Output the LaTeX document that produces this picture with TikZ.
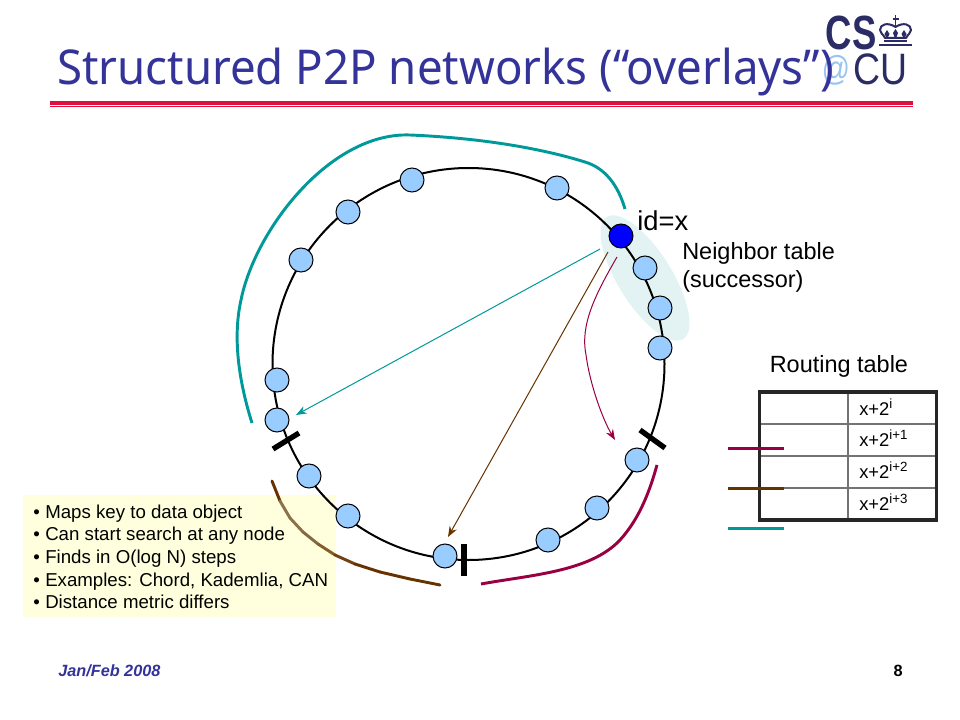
\documentclass[tikz,border=0pt]{standalone}
\usepackage{fontspec}
\setmainfont{Liberation Sans}
\newfontfamily\titlefont{Noto Sans}
\usetikzlibrary{arrows.meta,calc}
\definecolor{titleblue}{HTML}{333399}
\definecolor{rulered}{HTML}{E0103C}
\definecolor{logonavy}{HTML}{2B2B66}
\definecolor{logoblue}{HTML}{99C4EE}
\definecolor{peerblue}{HTML}{99CCFF}
\definecolor{tealc}{HTML}{009999}
\definecolor{crimsonc}{HTML}{990044}
\definecolor{brownc}{HTML}{663300}
\definecolor{notebg}{HTML}{FFFFDD}
\definecolor{nbg}{HTML}{E3F3F4}
\tikzset{
  x=0.75pt,y=-0.75pt,
  peer/.style={circle,draw=black,line width=0.75pt,fill=peerblue,minimum size=18pt,inner sep=0pt},
  self/.style={circle,draw=black,line width=0.75pt,fill=blue,minimum size=18pt,inner sep=0pt},
  tick/.style={line width=4pt,black},
  span/.style={line width=2.2pt},
  ptr/.style={line width=0.75pt,-{Stealth[length=8pt,width=6pt]}},
  cell/.style={draw=black!55,line width=1.3pt,minimum width=66.5pt,minimum height=24pt,inner sep=0pt,anchor=center},
  label/.style={inner sep=0pt,anchor=west,font=\fontsize{17.6pt}{21pt}\selectfont},
  keyline/.style={line width=2.25pt},
}
\newcommand{\rtx}[1]{\fontsize{13.8pt}{15pt}\selectfont x+2\raisebox{5pt}{\fontsize{10pt}{10pt}\selectfont #1}}
\newcommand{\bul}[1]{\makebox[9pt][l]{•}#1\\}
\begin{document}
\begin{tikzpicture}
\useasboundingbox (0,0) rectangle (960,720);
\fill[white] (0,0) rectangle (960,720);
% logo
\node[inner sep=0pt,text=logonavy,font=\bfseries\fontsize{36pt}{36pt}\selectfont] (logoCS) at (851,33) {\scalebox{0.76}[1]{CS}};
\node[inner sep=0pt,text=logoblue,font=\fontsize{26pt}{26pt}\selectfont] (logoAt) at (836,70) {\scalebox{0.8}[1]{@}};
\node[inner sep=0pt,text=logonavy,font=\fontsize{33pt}{33pt}\selectfont] (logoCU) at (880,69) {\scalebox{0.85}[1]{CU}};
\draw[logonavy,line width=1.5pt,line join=round] (885,38) .. controls (883,34) and (880,33) .. (880,30) .. controls (880,24) and (888,22) .. (895.5,27) .. controls (903,22) and (911,24) .. (911,30) .. controls (911,33) and (908,34) .. (906,38) -- cycle;
\draw[logonavy,line width=1.2pt] (895.5,15) -- (895.5,27) (892.5,19) -- (898.5,19);
\fill[logonavy] (887,30) -- (889.5,34) -- (888,37) -- (886,37) -- (884.5,34) -- cycle;
\fill[logonavy] (895.5,29) -- (898,33) -- (896.5,37) -- (894.5,37) -- (893,33) -- cycle;
\fill[logonavy] (904,30) -- (906.5,34) -- (905,37) -- (903,37) -- (901.5,34) -- cycle;
\fill[logonavy] (884,40) rectangle (907,42);
\fill[logonavy] (879,44) rectangle (912,46.5);
% title
\node[inner sep=0pt,anchor=base west,text=titleblue,font=\titlefont\fontsize{36pt}{40pt}\selectfont] (title) at (57,85) {\scalebox{0.95}[1]{Structured P2P networks (“overlays”)}};
\fill[rulered] (50,101) rectangle (913,105);
\fill[rulered] (50,106.2) rectangle (913,107.2);
% neighbour ellipse
\fill[nbg,rotate around={-58:(645,278)}] (645,278) ellipse [x radius=72,y radius=27];
% note box
\node[fill=notebg,minimum width=234.75pt,minimum height=91.5pt,inner sep=0pt] (note) at (179.5,556) {};
\node[inner sep=0pt,anchor=north west,align=left,font=\fontsize{14pt}{17pt}\selectfont] (notetext) at (33,504.5) {\bul{Maps key to data object}\bul{Can start search at any node}\bul{Finds in O(log N) steps}\bul{Examples: Chord, Kademlia, CAN}\makebox[9pt][l]{•}Distance metric differs};
% ring
\node[circle,draw=black,line width=1.5pt,minimum size=294pt,inner sep=0pt] (ring) at (468.5,364) {};
% brown span with varying tone
\foreach \xa/\ya/\xb/\yb/\c in {272/481/280/501/brownc,280/501/290/518/brownc!60!notebg!85!black,290/518/303/532/brownc!60!notebg!85!black,303/532/318/544/brownc!65!notebg!85!black,318/544/335/555/brownc!80!notebg,335/555/355/564/brownc!92!notebg,355/564/380/572/brownc,380/572/410/579/brownc,410/579/440/585/brownc}
  \draw[span,color=\c,line cap=round] (\xa,\ya) -- (\xb,\yb);
% peers
\node[self] (x) at (621,236) {};
\foreach \n/\px/\py in {a/645/268,b/660/308,c/660/348,d/637/460,e/597/508,f/548/540,g/445/556,h/348/516,i/309/476,j/277/420,k/277/380,l/301/260,m/348/212,n/412/180,o/557/188}
  \node[peer] (\n) at (\px,\py) {};
% ticks
\coordinate (t1a) at (273,449); \coordinate (t1b) at (299,433);
\coordinate (t2a) at (464,544); \coordinate (t2b) at (464,576);
\coordinate (t3a) at (640,430); \coordinate (t3b) at (665,448);
\draw[tick] (t1a) -- (t1b);
\draw[tick] (t2a) -- (t2b);
\draw[tick] (t3a) -- (t3b);
% spans
\coordinate (ts) at (252,423); \coordinate (te) at (625,209);
\draw[span,tealc] (ts) .. controls (240,385) and (232,340) .. (241,300) .. controls (255,230) and (330,132) .. (410,135) .. controls (480,138) and (540,148) .. (585,162) .. controls (605,168) and (618,185) .. (te);
\coordinate (cs) at (481,584); \coordinate (ce) at (657,465);
\draw[span,crimsonc] (cs) .. controls (530,575) and (590,572) .. (620,540) .. controls (640,518) and (650,490) .. (ce);
% pointers
\coordinate (p1) at (600,249); \coordinate (p2) at (608,252); \coordinate (p3) at (617,257);
\coordinate (q1) at (296,415); \coordinate (q2) at (448,537); \coordinate (q3) at (615,440);
\draw[ptr,tealc] (p1) -- (q1);
\draw[ptr,brownc] (p2) -- (q2);
\draw[ptr,crimsonc] (p3) .. controls (595,295) and (580,325) .. (586,355) .. controls (590,385) and (603,420) .. (q3);
% labels
\node[label,font=\fontsize{20.5pt}{24pt}\selectfont] (idx) at (637,221) {id=x};
\node[label,align=left] (nt) at (682,267) {Neighbor table\\(successor)};
\node[label] (rt) at (769.5,366) {Routing table};
% routing table
\node[cell] (l1) at (803.5,408) {};
\node[cell] (l2) at (803.5,440) {};
\node[cell] (l3) at (803.5,472) {};
\node[cell] (l4) at (803.5,504) {};
\node[cell] (r1) at (892.5,408) {};
\node[cell] (r2) at (892.5,440) {};
\node[cell] (r3) at (892.5,472) {};
\node[cell] (r4) at (892.5,504) {};
\node[inner sep=0pt,anchor=west] (v1) at (859,407) {\rtx{i}};
\node[inner sep=0pt,anchor=west] (v2) at (859,438) {\rtx{i+1}};
\node[inner sep=0pt,anchor=west] (v3) at (859,470) {\rtx{i+2}};
\node[inner sep=0pt,anchor=west] (v4) at (859,502) {\rtx{i+3}};
\node[draw=black!85,line width=2.6pt,minimum width=133pt,minimum height=96pt,inner sep=0pt] (frame) at (848,456) {};
% routing keys
\coordinate (k1a) at (728,448); \coordinate (k1b) at (784,448);
\coordinate (k2a) at (728,488); \coordinate (k2b) at (784,488);
\coordinate (k3a) at (728,528); \coordinate (k3b) at (784,528);
\draw[keyline,crimsonc] (k1a) -- (k1b);
\draw[keyline,brownc] (k2a) -- (k2b);
\draw[keyline,tealc] (k3a) -- (k3b);
% footer
\node[inner sep=0pt,anchor=west,text=titleblue,font=\bfseries\itshape\fontsize{12.2pt}{14pt}\selectfont] (date) at (58,671) {Jan/Feb 2008};
\node[inner sep=0pt,anchor=east,font=\bfseries\fontsize{12.2pt}{14pt}\selectfont] (page) at (903,671) {8};
\end{tikzpicture}
\end{document}
